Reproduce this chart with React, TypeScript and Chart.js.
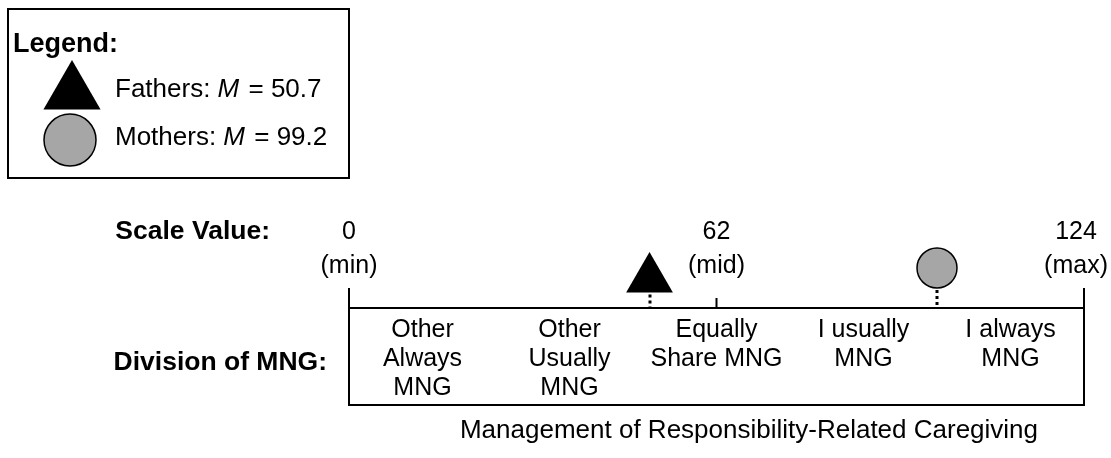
import React, { useEffect, useRef } from 'react';
import { Chart, registerables } from 'chart.js';

Chart.register(...registerables);

// ---- data ----
const scaleMin = 0;
const scaleMid = 62;
const scaleMax = 124;
const scaleTickValues = [scaleMin, scaleMid, scaleMax];
const scaleTickNames = ['(min)', '(mid)', '(max)'];
const divisionLabels = [
  ['Other', 'Always', 'MNG'],
  ['Other', 'Usually', 'MNG'],
  ['Equally', 'Share MNG'],
  ['I usually', 'MNG'],
  ['I always', 'MNG'],
];
const groupNames = ['Fathers', 'Mothers'];
const groupMeans = [50.7, 99.2];
const rowLabels = ['Scale Value:', 'Division of MNG:'];
const axisTitle = 'Management of Responsibility-Related Caregiving';
const legendTitle = 'Legend:';

const FONT = '"Liberation Sans", Arial, Helvetica, sans-serif';
const GRAY = '#a6a6a6';

const diagramPlugin = {
  id: 'diagram',
  afterDatasetsDraw(chart: any) {
    const ctx: CanvasRenderingContext2D = chart.ctx;
    const xs = chart.scales.x;
    const area = chart.chartArea;
    const axisY = area.bottom;
    const boxBottom = axisY + 97;
    const x0 = xs.getPixelForValue(scaleMin);
    const x1 = xs.getPixelForValue(scaleMax);
    const xm = xs.getPixelForValue(scaleMid);
    ctx.save();
    ctx.strokeStyle = '#000';
    ctx.fillStyle = '#000';
    ctx.lineWidth = 2;
    ctx.lineCap = 'butt';

    // axis line + box
    ctx.beginPath();
    ctx.moveTo(x0, axisY - 20);
    ctx.lineTo(x0, boxBottom);
    ctx.lineTo(x1, boxBottom);
    ctx.lineTo(x1, axisY - 20);
    ctx.moveTo(x0, axisY);
    ctx.lineTo(x1, axisY);
    ctx.moveTo(xm, axisY - 10);
    ctx.lineTo(xm, axisY);
    ctx.stroke();

    // dotted drop lines from markers
    ctx.lineWidth = 3;
    ctx.setLineDash([3, 3]);
    chart.data.datasets.forEach((ds: any, i: number) => {
      const meta = chart.getDatasetMeta(i);
      const pt = meta.data[0];
      if (!pt) return;
      const r = ds.pointRadius;
      const startY = ds.pointStyle === 'triangle' ? pt.y + r / 2 : pt.y + r;
      ctx.beginPath();
      ctx.moveTo(Math.round(pt.x), startY + 2);
      ctx.lineTo(Math.round(pt.x), axisY - 1);
      ctx.stroke();
    });
    ctx.setLineDash([]);
    ctx.lineWidth = 2;

    // tick labels
    ctx.font = `25px ${FONT}`;
    ctx.textBaseline = 'middle';
    ctx.textAlign = 'center';
    scaleTickValues.forEach((v, i) => {
      let cx = xs.getPixelForValue(v);
      const lines = [String(v), scaleTickNames[i]];
      const w = Math.max(...lines.map((l) => ctx.measureText(l).width));
      if (cx + w / 2 > chart.width - 3) cx = chart.width - 3 - w / 2;
      ctx.fillText(lines[0], cx, axisY - 76);
      ctx.fillText(lines[1], cx, axisY - 42);
    });

    // division labels
    const n = divisionLabels.length;
    const step = (scaleMax - scaleMin) / n;
    divisionLabels.forEach((lines, i) => {
      const cx = xs.getPixelForValue(scaleMin + step * (i + 0.5));
      lines.forEach((l, j) => ctx.fillText(l, cx, axisY + 22 + j * 29));
    });

    // row labels
    ctx.font = `bold 26.5px ${FONT}`;
    ctx.textAlign = 'right';
    ctx.fillText(rowLabels[0], 270, axisY - 76);
    ctx.fillText(rowLabels[1], 327, axisY + 55);

    // axis title
    ctx.font = `26px ${FONT}`;
    ctx.textAlign = 'center';
    ctx.fillText(axisTitle, 749, boxBottom + 26);

    // legend box
    ctx.lineWidth = 2;
    ctx.strokeRect(8, 9, 341, 169);
    ctx.textAlign = 'left';
    ctx.font = `bold 27px ${FONT}`;
    ctx.fillText(legendTitle, 13, 45);

    // legend symbols
    chart.data.datasets.forEach((ds: any, i: number) => {
      const cy = i === 0 ? 93 : 140;
      ctx.fillStyle = ds.backgroundColor;
      ctx.strokeStyle = '#000';
      ctx.lineWidth = 1.5;
      ctx.beginPath();
      if (ds.pointStyle === 'triangle') {
        const r = 33;
        ctx.moveTo(72, cy - r);
        ctx.lineTo(72 + r * 0.866, cy + r / 2);
        ctx.lineTo(72 - r * 0.866, cy + r / 2);
        ctx.closePath();
        ctx.fill();
      } else {
        ctx.arc(70, cy, 26, 0, Math.PI * 2);
        ctx.fill();
        ctx.stroke();
      }
      // text
      ctx.fillStyle = '#000';
      let tx = 115;
      const ty = i === 0 ? 90 : 138;
      const parts: [string, string][] = [
        [`${groupNames[i]}: `, `26px ${FONT}`],
        ['M', `italic 26px ${FONT}`],
        [` = ${groupMeans[i]}`, `26px ${FONT}`],
      ];
      parts.forEach(([t, f]) => {
        ctx.font = f;
        ctx.fillText(t, tx, ty);
        tx += ctx.measureText(t).width + (t === 'M' ? 2 : 0);
      });
    });

    ctx.restore();
  },
};

export default function App() {
  const ref = useRef<HTMLCanvasElement | null>(null);
  useEffect(() => {
    if (!ref.current) return;
    const chart = new Chart(ref.current, {
      type: 'scatter',
      data: {
        datasets: [
          {
            label: groupNames[0],
            data: [{ x: groupMeans[0], y: 29 }],
            pointStyle: 'triangle',
            pointRadius: 27,
            backgroundColor: '#000',
            borderColor: '#000',
            borderWidth: 0,
            clip: false,
          },
          {
            label: groupNames[1],
            data: [{ x: groupMeans[1], y: 40 }],
            pointStyle: 'circle',
            pointRadius: 20,
            backgroundColor: GRAY,
            borderColor: '#000',
            borderWidth: 1.5,
            clip: false,
          },
        ] as any,
      },
      options: {
        animation: false,
        responsive: false,
        events: [],
        layout: { padding: { left: 349, right: 23, top: 208, bottom: 150 } },
        plugins: { legend: { display: false }, tooltip: { enabled: false } },
        scales: {
          x: { type: 'linear', min: scaleMin, max: scaleMax, display: false },
          y: { type: 'linear', min: 0, max: 100, display: false },
        },
      },
      plugins: [diagramPlugin],
    });
    return () => chart.destroy();
  }, []);
  return (
    <div style={{ position: 'fixed', left: 0, top: 0, width: 1111, height: 458, background: '#fff' }}>
      <canvas ref={ref} width={1111} height={458} style={{ display: 'block' }} />
    </div>
  );
}
